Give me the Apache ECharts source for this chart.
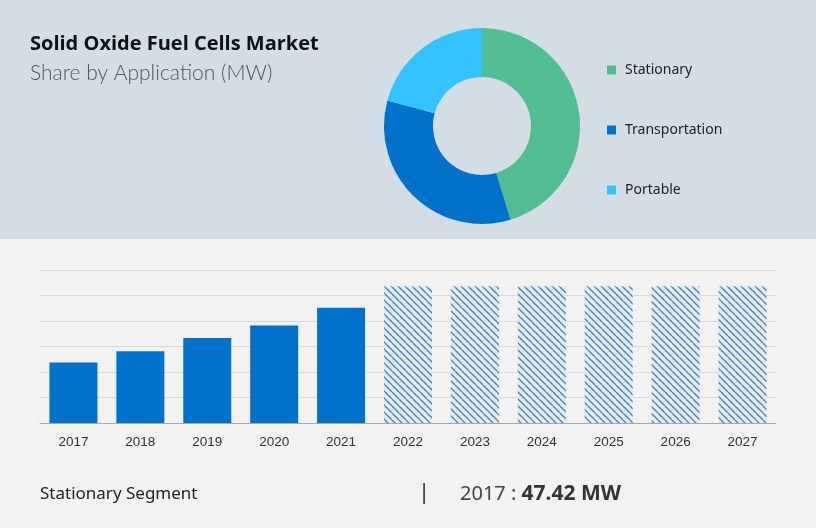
<!DOCTYPE html>
<html>
<head>
<meta charset="utf-8">
<script src="https://cdn.jsdelivr.net/npm/echarts@6/dist/echarts.min.js"></script>
<style>
html,body{margin:0;padding:0;background:#f2f2f2;}
#c{width:816px;height:528px;}
</style>
</head>
<body>
<div id="c"></div>
<script>
// ---- data ----
const titleText = 'Solid Oxide Fuel Cells Market';
const subtitleText = 'Share by Application (MW)';
const segments = ['Stationary', 'Transportation', 'Portable'];
const segmentShares = [45.3, 33.9, 20.8];
const segmentColors = ['#52bd92', '#0072cc', '#33c3ff'];
const years = ['2017','2018','2019','2020','2021','2022','2023','2024','2025','2026','2027'];
const historicalValues = [47.42, 56.2, 66.6, 76.4, 90.3];
const forecastValues = [107.3, 107.3, 107.3, 107.3, 107.3, 107.3];
const footerLabel = 'Stationary Segment';
const footerYear = '2017';
const footerValue = '47.42 MW';

// hatch pattern
function makeHatch() {
  const s = 7;
  const cv = document.createElement('canvas');
  cv.width = s; cv.height = s;
  const g = cv.getContext('2d');
  g.fillStyle = '#ddeefb';
  g.fillRect(0, 0, s, s);
  g.strokeStyle = '#5c7a9a';
  g.lineWidth = 1.3;
  for (const off of [-s, 0, s]) {
    g.beginPath();
    g.moveTo(off, 0);
    g.lineTo(off + s, s);
    g.stroke();
  }
  return cv;
}
const hatch = makeHatch();

const barData = years.map((y, i) => {
  if (i < historicalValues.length) {
    return { value: historicalValues[i], itemStyle: { color: '#0072cc' } };
  }
  return {
    value: forecastValues[i - historicalValues.length],
    itemStyle: { color: { image: hatch, repeat: 'repeat' } }
  };
});

const chart = echarts.init(document.getElementById('c'), null, { renderer: 'canvas' });
chart.setOption({
  backgroundColor: '#f2f2f2',
  animation: false,
  graphic: [
    { type: 'rect', left: 0, top: 0, z: -10, shape: { width: 816, height: 239 }, style: { fill: '#d3dde6' } },
    { type: 'text', left: 30, top: 34, style: { text: titleText, font: 'bold 20px "Open Sans"', fill: '#111' } },
    { type: 'text', left: 30, top: 63, style: { text: subtitleText, font: '300 21px Lato', fill: '#555' } },
    { type: 'text', left: 40, top: 486, style: { text: footerLabel, font: '17px "Noto Sans"', fill: '#222' } },
    { type: 'text', left: 418, top: 482, style: { text: '|', font: '22px "Noto Sans"', fill: '#333' } },
    { type: 'text', left: 460, top: 484, style: {
        text: '{a|' + footerYear + ' : }{b|' + footerValue + '}',
        rich: {
          a: { font: '20px "Noto Sans"', fill: '#444' },
          b: { font: 'bold 21px "Noto Sans"', fill: '#333' }
        }
      } }
  ],
  legend: {
    orient: 'vertical',
    left: 607,
    top: 60,
    padding: 0,
    itemWidth: 9,
    itemHeight: 9,
    itemGap: 40,
    icon: 'rect',
    data: segments,
    textStyle: { fontSize: 14, fontFamily: 'Noto Sans', color: '#222', lineHeight: 20, padding: [0, 0, 0, 4] }
  },
  grid: { left: 40, right: 40, top: 270, bottom: 105, containLabel: false },
  xAxis: {
    type: 'category',
    data: years,
    axisLine: { lineStyle: { color: '#a8a8a8' } },
    axisTick: { show: false },
    axisLabel: { fontSize: 13.5, color: '#333', fontFamily: 'Liberation Sans', margin: 12 }
  },
  yAxis: {
    type: 'value',
    min: 0, max: 120, interval: 20,
    axisLabel: { show: false },
    axisLine: { show: false },
    axisTick: { show: false },
    splitLine: { lineStyle: { color: '#dadada' } }
  },
  series: [
    {
      type: 'pie',
      name: 'Share',
      center: [482, 126],
      radius: [49, 98],
      startAngle: 90,
      clockwise: true,
      label: { show: false },
      labelLine: { show: false },
      itemStyle: { borderWidth: 0 },
      data: segments.map((s, i) => ({ name: s, value: segmentShares[i], itemStyle: { color: segmentColors[i] } }))
    },
    {
      type: 'bar',
      name: 'Market',
      barWidth: 48,
      data: barData
    }
  ]
});
</script>
</body>
</html>
